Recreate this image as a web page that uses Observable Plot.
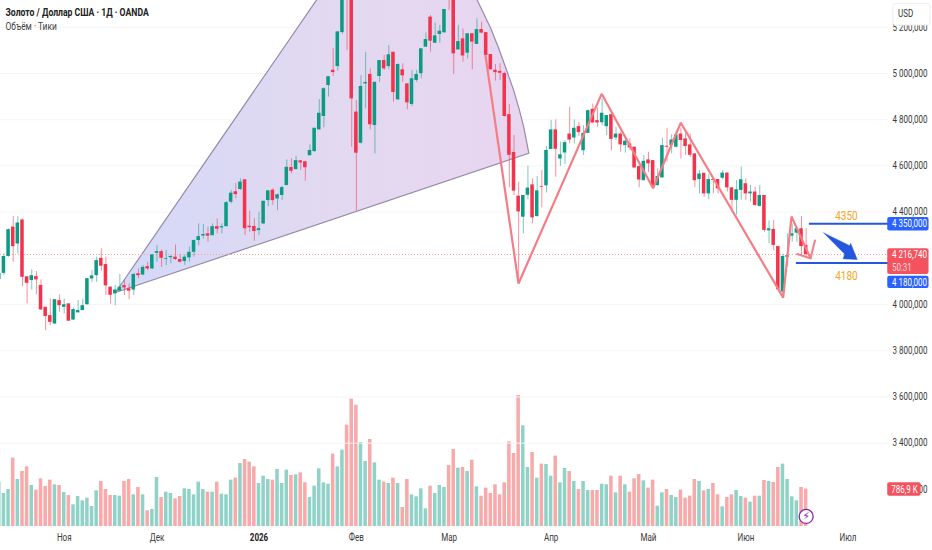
<!DOCTYPE html>
<html><head><meta charset="utf-8">
<script src="https://cdn.jsdelivr.net/npm/d3@7"></script>
<script src="https://cdn.jsdelivr.net/npm/@observablehq/plot@0.6"></script>
<style>
html,body{margin:0;padding:0;background:#fff;overflow:hidden}
#chart{position:relative;width:932px;height:550px}
#chart svg{position:absolute;left:0;top:0;background:transparent}
</style></head><body><div id="chart"></div>
<script>
const opens=[4108,4135,4208,4335,4262,4366,4120,4104,4121,4083,3988,3952,3916,4017,3988,4003,3933,3964,3974,3999,4111,4125,4200,4173,4075,4046,4058,4082,4068,4063,4133,4128,4164,4154,4222,4229,4196,4203,4205,4195,4186,4202,4226,4277,4297,4306,4298,4337,4332,4337,4443,4488,4498,4540,4339,4338,4320,4349,4450,4495,4457,4472,4515,4593,4584,4622,4618,4644,4662,4756,4814,4948,5014,5030,5177,5600,5480,4833,4698,4955,4996,4775,4987,5056,5030,5092,4886,5016,4955,4866,4970,4999,5114,5244,5131,5169,5176,5560,5340,5102,5150,5088,5172,5126,5190,5177,5082,5014,5009,5000,4822,4658,4469,4378,4473,4518,4381,4511,4514,4671,4756,4630,4656,4738,4721,4770,4666,4741,4845,4796,4787,4770,4822,4721,4738,4688,4695,4681,4597,4536,4626,4623,4515,4548,4685,4688,4681,4738,4717,4691,4652,4541,4568,4479,4541,4541,4547,4569,4505,4451,4494,4523,4479,4487,4425,4472,4319,4325,4251,4054,4204,4296,4309,4328,4256];
const closes=[4135,4208,4324,4251,4353,4118,4092,4125,4107,3977,3948,3923,4021,3995,3999,3928,3978,3974,3995,4112,4124,4190,4166,4081,4040,4063,4075,4072,4058,4130,4125,4161,4154,4215,4229,4200,4199,4208,4195,4183,4205,4226,4277,4294,4303,4296,4337,4326,4337,4441,4482,4476,4530,4328,4333,4316,4328,4447,4492,4450,4475,4506,4594,4577,4623,4613,4592,4667,4763,4828,4934,4986,5004,5180,5400,5420,4890,4655,4944,4961,4778,4962,5056,5020,5081,4918,5039,4990,4873,4977,4996,5107,5147,5140,5163,5183,5277,5400,5085,5138,5076,5172,5136,5190,5175,5078,5016,5004,5001,4814,4646,4491,4401,4472,4504,4375,4492,4508,4667,4756,4672,4648,4701,4712,4763,4744,4741,4839,4786,4786,4828,4818,4715,4738,4691,4707,4678,4591,4539,4620,4609,4508,4554,4688,4681,4712,4734,4710,4684,4646,4536,4565,4479,4541,4537,4501,4569,4505,4451,4497,4540,4479,4487,4429,4472,4321,4328,4256,4064,4208,4212,4306,4328,4251,4216.74];
const highs=[4147,4219,4327,4381,4381,4371,4120,4150,4143,4107,3988,4024,4021,4042,4024,4003,3985,4017,4024,4112,4147,4205,4241,4205,4078,4082,4130,4104,4089,4135,4154,4169,4183,4215,4255,4236,4234,4212,4258,4215,4215,4248,4280,4349,4346,4335,4349,4371,4349,4446,4493,4525,4544,4540,4404,4371,4400,4447,4493,4501,4479,4511,4626,4631,4641,4623,4618,4691,4763,4887,4938,4986,5107,5183,5450,5620,5500,4883,4991,5092,5020,4962,5056,5078,5121,5092,5042,5042,4955,5013,5013,5107,5176,5251,5218,5208,5277,5580,5380,5208,5193,5172,5172,5237,5222,5177,5082,5039,5042,5006,4866,4732,4530,4472,4599,4544,4554,4580,4684,4797,4799,4702,4710,4854,4799,4789,4774,4842,4868,4851,4890,4818,4822,4767,4746,4731,4717,4681,4601,4645,4659,4623,4587,4720,4763,4735,4753,4763,4753,4738,4652,4580,4568,4561,4544,4541,4580,4569,4505,4537,4595,4544,4515,4508,4515,4472,4361,4364,4251,4217,4306,4349,4332,4381,4328];
const lows=[4104,4125,4205,4183,4219,4078,4003,4063,4043,3974,3887,3909,3913,3967,3959,3928,3930,3964,3974,3999,4096,4096,4144,4039,4003,3995,4058,4039,4021,4039,4111,4125,4147,4151,4183,4161,4169,4176,4190,4179,4169,4183,4205,4255,4284,4270,4298,4306,4306,4337,4436,4457,4493,4299,4313,4274,4299,4346,4424,4429,4407,4450,4515,4566,4584,4580,4534,4644,4659,4756,4765,4898,4987,5010,5170,5100,4681,4404,4695,4847,4756,4652,4962,5013,5016,4876,4883,4962,4843,4857,4962,4977,5114,5092,5131,5131,5176,5273,4996,5102,5049,5063,5016,5126,5172,5078,5016,4967,4970,4811,4505,4472,4110,4306,4453,4349,4378,4418,4483,4671,4551,4597,4606,4695,4695,4727,4645,4741,4782,4767,4774,4731,4666,4710,4659,4655,4666,4591,4505,4536,4572,4500,4512,4548,4616,4652,4678,4630,4645,4637,4507,4479,4464,4453,4479,4479,4540,4487,4407,4386,4451,4451,4443,4425,4422,4313,4263,4234,4061,4025,4162,4270,4270,4208,4202];
const volumes=[931,693,777,1435,987,1155,1253,861,763,1001,840,973,875,861,714,651,455,630,539,595,420,749,945,777,651,651,637,945,987,665,819,665,329,357,1029,609,721,693,581,630,791,777,665,931,777,721,721,931,679,665,973,1015,1323,1407,1351,1253,903,1057,987,973,1197,903,1183,1071,1085,1127,917,609,847,1211,917,889,1519,1253,1603,2128,2674,2548,1764,1365,1827,1337,973,931,903,1015,903,399,987,665,623,791,371,847,693,861,819,1281,1617,1225,1239,1155,1393,833,637,805,693,875,665,917,1778,1533,2751,2114,1239,1554,1015,1309,1302,1057,1477,917,1218,1155,945,777,945,756,756,756,889,875,1057,707,1057,875,721,1001,1092,959,805,973,427,707,777,651,609,763,595,637,987,945,749,777,903,665,413,609,665,756,630,595,511,637,637,966,945,924,1239,1309,987,623,539,819,786.9];

const priceTicks=[3200,3400,3600,3800,4000,4400,4600,4800,5000,5200];
const gridTicks=[3400,3600,3800,4000,4200,4400,4600,4800,5000,5200];
const monthIdx=[14,34,77,97,119,140,161,183];
const monthLabels=["Ноя","Дек","Фев","Мар","Апр","Май","Июн","Июл"];
const yearIdx=[56];
const yearLabels=["2026"];

const fanI=[25.06,77.25,95.15,100.5,103.1,105.9,107.55,109.17,110.95,112.08,113.1,114.19];
const fanP=[4052,5576,5532,5403,5316,5199,5117,5027,4926,4848,4768,4655];
const zigI=[104.85,111.97,129.9,141,146.97,169.05,170.84,174.94];
const zigP=[5078,4091,4912,4503,4787,4030,4381,4200];
const tailI=[172.07,174.94,175.9];
const tailP=[4219,4200,4277];
const arrowI=[177.8,183.4,183.6,185,182,182.3];
const arrowP=[4310,4255,4265,4195,4198,4219];
const levelValues=[4350,4180];
const levelStart=[174.7,171.9];
const levelNotes=["4350","4180"];
const noteI=[182.7,182.7];
const noteP=[4385,4122];

const lastPrice=4216.74;
const tagTop=[4377,4242,4123];
const tagBottom=[4318,4130,4069];
const tagFill=["#2962ff","#f2535e","#2962ff"];
const tagText=["4\u00a0350,000","4\u00a0216,740","4\u00a0180,000"];
const tagTextP=[4348,4214,4095];

const blue="#2457e0", orange="#f5a623", zig="#f57d85";
const teal="#0b9a84", red="#f2334b";
const tealV="#8fd3c8", redV="#f8a9a9";
const uiFont="Roboto, sans-serif";
const textSqueeze=0.8;
const frameRight=888, width=932, height=550, bottom=23;
const xDomain=[0.259,191.76];

const fmtPrice=d=>`${Math.floor(d/1000)}\u00a0${String(d%1000).padStart(3,"0")},000`;
const candles=opens.map((o,i)=>({i,o,c:closes[i],h:highs[i],l:lows[i],v:volumes[i],col:closes[i]>=o?teal:red,vcol:closes[i]>=o?tealV:redV}));
const pts=(I,P)=>I.map((x,k)=>({x,y:P[k]}));

const gradient=()=>{
  const s=d3.create("svg:defs");
  const g=s.append("linearGradient").attr("id","fanFill").attr("x1","0").attr("x2","1").attr("y1","0").attr("y2","0");
  g.append("stop").attr("offset","0").attr("stop-color","#d3d9f8");
  g.append("stop").attr("offset","0.5").attr("stop-color","#e2d9f1");
  g.append("stop").attr("offset","1").attr("stop-color","#e9d5ef");
  return s.node();
};

const volumePlot=Plot.plot({
  width,height,marginLeft:0,marginRight:width-frameRight,marginTop:0,marginBottom:24,
  style:{background:"transparent"},
  x:{domain:xDomain,axis:null},
  y:{domain:[0,11046],axis:null},
  marks:[
    Plot.rect(candles,{x1:d=>d.i-0.38,x2:d=>d.i+0.38,y1:0,y2:"v",fill:"vcol",clip:true})
  ]
});

const pricePlot=Plot.plot({
  width,height,marginLeft:0,marginRight:width-frameRight,marginTop:0,marginBottom:bottom,
  style:{background:"transparent",fontFamily:uiFont},
  x:{domain:xDomain,axis:null},
  y:{domain:[3035,5316],axis:null},
  marks:[
    gradient,
    Plot.ruleY(gridTicks,{stroke:"#f5f5f5",strokeWidth:1}),
    Plot.axisY(priceTicks,{anchor:"right",tickSize:0,tickPadding:4,tickFormat:fmtPrice,label:null,fontSize:10,fill:"#3a3a3a"}),
    Plot.line(pts(fanI,fanP).concat(pts(fanI,fanP).slice(0,1)),{x:"x",y:"y",fill:"url(#fanFill)",stroke:"#958ba9",strokeWidth:1.2,clip:true}),
    Plot.ruleY([lastPrice],{stroke:"#f7a0a4",strokeWidth:1,strokeDasharray:"1,2",x1:xDomain[0],x2:xDomain[1]}),
    Plot.ruleX(candles,{x:"i",y1:"l",y2:"h",stroke:"col",strokeWidth:1,strokeOpacity:0.55,clip:true}),
    Plot.rect(candles,{x1:d=>d.i-0.38,x2:d=>d.i+0.38,y1:"o",y2:"c",fill:"col",clip:true}),
    Plot.line(pts(zigI,zigP),{x:"x",y:"y",stroke:zig,strokeWidth:2.2,strokeLinejoin:"miter"}),
    Plot.line(pts(tailI,tailP),{x:"x",y:"y",stroke:zig,strokeWidth:2,strokeLinejoin:"miter"}),
    Plot.line(pts(arrowI,arrowP).concat(pts(arrowI,arrowP).slice(0,1)),{x:"x",y:"y",fill:blue,stroke:blue,strokeWidth:0.5}),
    Plot.ruleY(levelValues,{y:d=>d,x1:(d,k)=>levelStart[k],x2:xDomain[1],stroke:blue,strokeWidth:2}),
    Plot.text(levelNotes,{x:noteI,y:noteP,text:d=>d,fill:orange,fontSize:12.5}),
    // price tags on the scale
    Plot.rect(tagText,{x1:()=>191.6,x2:()=>200.5,y1:(d,k)=>tagBottom[k],y2:(d,k)=>tagTop[k],fill:(d,k)=>tagFill[k],rx:2}),
    Plot.text(tagText,{x:()=>192.5,y:(d,k)=>tagTextP[k],text:d=>d,fill:"#fff",textAnchor:"start",fontSize:10}),
    Plot.text(["50:31"],{x:[192.5],y:[4160],text:d=>d,fill:"#ffd5d8",textAnchor:"start",fontSize:10}),
    Plot.rect(["vol"],{x1:()=>191.6,x2:()=>198.8,y1:()=>3170,y2:()=>3229,fill:"#f2535e",rx:2}),
    Plot.text(["786,9\u00a0K"],{x:[195.2],y:[3199],text:d=>d,fill:"#fff",fontSize:10}),
    // currency button
    Plot.rect(["USD"],{x1:()=>192.8,x2:()=>200.8,y1:()=>5208,y2:()=>5301,fill:"#fff",stroke:"#eeeeee",rx:3}),
    Plot.text(["USD"],{x:[193.8],y:[5258],text:d=>d,fill:"#333",textAnchor:"start",fontSize:10}),
    // alert badge on the last bar
    Plot.dot([174],{x:d=>d,y:()=>3083,r:7,fill:"#fff",stroke:"#8e24aa",strokeWidth:1.3}),
    Plot.text(["\u26A1"],{x:[174],y:[3083],text:d=>d,fill:"#8e24aa",fontSize:11,fontFamily:"DejaVu Sans",className:"glyph"}),
    // time axis
    Plot.text(monthLabels,{x:(d,k)=>monthIdx[k],text:d=>d,frameAnchor:"bottom",lineAnchor:"middle",dy:10,fill:"#3a3a3a",fontSize:10}),
    Plot.text(yearLabels,{x:(d,k)=>yearIdx[k],text:d=>d,frameAnchor:"bottom",lineAnchor:"middle",dy:10,fill:"#222",fontSize:10,fontWeight:700}),
    // header
    Plot.text(["Золото / Доллар США · 1Д · OANDA"],{text:d=>d,frameAnchor:"top-left",dx:5,dy:8,fill:"#222",fontSize:10.8,fontWeight:700}),
    Plot.text(["Объём · Тики"],{text:d=>d,frameAnchor:"top-left",dx:5,dy:22,fill:"#444",fontSize:10.5})
  ]
});
const root=document.getElementById("chart");
root.append(volumePlot,pricePlot);
// The reference's interface font is narrower than any installed face.
d3.select(pricePlot).selectAll("text").each(function(){
  if (this.closest(".glyph")) return;
  this.setAttribute("textLength",this.getComputedTextLength()*textSqueeze);
  this.setAttribute("lengthAdjust","spacingAndGlyphs");
});
</script></body></html>
